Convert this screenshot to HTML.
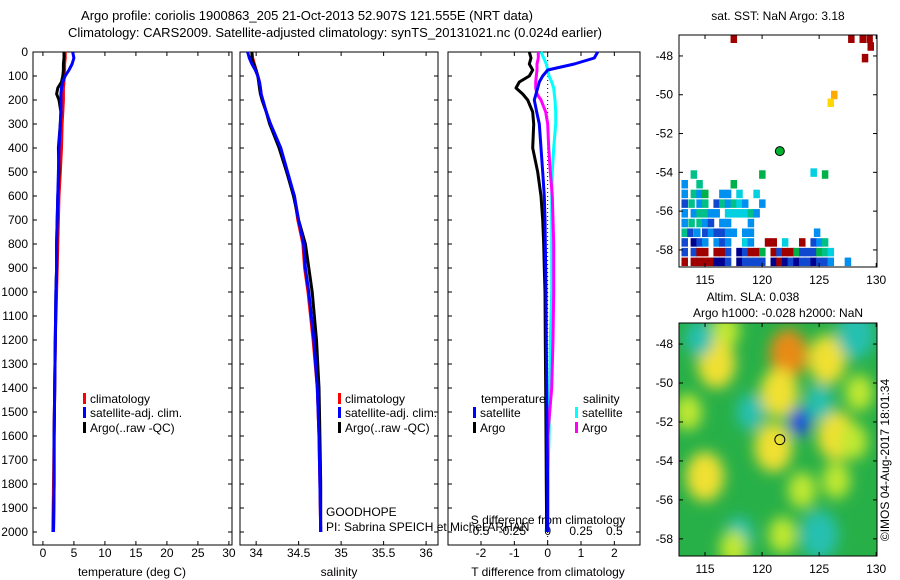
<!DOCTYPE html>
<html><head><meta charset="utf-8">
<style>
body{margin:0;background:#fff;}
svg{display:block;font-family:"Liberation Sans",sans-serif;}
text{font-size:12px;fill:#000;}
</style></head>
<body>
<svg id="fig" width="900" height="580" xmlns="http://www.w3.org/2000/svg">
<defs><clipPath id="clipM1"><rect x="679" y="35" width="198" height="232"/></clipPath>
<clipPath id="clipM2"><rect x="679" y="323" width="198" height="233"/></clipPath>
<filter id="blur" x="-50%" y="-50%" width="200%" height="200%"><feGaussianBlur stdDeviation="7"/></filter></defs>
<text x="307" y="20" text-anchor="middle" style="font-size:13px">Argo profile: coriolis 1900863_205 21-Oct-2013 52.907S 121.555E (NRT data)</text>
<text x="335" y="37" text-anchor="middle" style="font-size:13px">Climatology: CARS2009. Satellite-adjusted climatology: synTS_20131021.nc (0.024d earlier)</text>
<g id="g"></g>
</svg>
<script>
const depths = [0,25,50,75,100,125,150,175,200,250,300,400,500,600,700,800,900,1000,1200,1400,1600,1800,2000];
const tempClim = [3.6,3.6,3.5,3.5,3.4,3.4,3.3,3.3,3.3,3.2,3.1,3.0,2.8,2.6,2.5,2.4,2.3,2.2,2.0,1.9,1.8,1.7,1.6];
const tempSat  = [4.8,5.0,4.7,4.2,3.6,3.2,3.0,2.9,2.9,2.9,2.8,2.6,2.5,2.4,2.3,2.2,2.2,2.1,2.0,1.9,1.8,1.8,1.7];
const tempArgo = [3.4,3.4,3.3,3.3,3.2,3.0,2.4,2.2,2.6,2.9,2.8,2.5,2.6,2.4,2.3,2.2,2.2,2.1,2.0,1.9,1.8,1.8,1.7];
const salClim = [33.95,33.96,33.98,34.0,34.02,34.04,34.05,34.06,34.07,34.12,34.16,34.28,34.36,34.45,34.49,34.55,34.57,34.61,34.67,34.72,34.74,34.75,34.76];
const salSat  = [33.9,33.92,33.95,33.99,34.02,34.04,34.05,34.06,34.08,34.12,34.17,34.29,34.37,34.45,34.5,34.56,34.58,34.62,34.68,34.72,34.74,34.75,34.76];
const salArgo = [33.95,33.95,33.97,34.0,34.02,34.03,34.04,34.05,34.07,34.12,34.16,34.27,34.36,34.44,34.5,34.58,34.62,34.66,34.71,34.74,34.75,34.76,34.76];
const tDiffSat  = [1.5,1.4,0.8,0.0,-0.15,-0.25,-0.3,-0.35,-0.4,-0.33,-0.25,-0.2,-0.15,-0.1,-0.08,-0.07,-0.06,-0.05,-0.04,-0.03,-0.02,0.0,0.0];
const tDiffArgo = [-0.55,-0.5,-0.55,-0.45,-0.55,-0.85,-0.95,-0.75,-0.6,-0.45,-0.42,-0.45,-0.3,-0.2,-0.15,-0.12,-0.1,-0.08,-0.07,-0.06,-0.05,-0.04,-0.03];
const sDiffSat  = [-0.05,-0.03,-0.01,0.0,0.01,0.03,0.045,0.05,0.055,0.06,0.06,0.045,0.035,0.03,0.03,0.03,0.03,0.03,0.02,0.015,0.01,0.0,-0.01];
const sDiffArgo = [-0.07,-0.07,-0.08,-0.08,-0.085,-0.09,-0.09,-0.08,-0.05,-0.015,0.0,0.008,0.02,0.035,0.04,0.045,0.045,0.045,0.04,0.03,0.0,0.0,0.0];
const depthTicks = [0,100,200,300,400,500,600,700,800,900,1000,1100,1200,1300,1400,1500,1600,1700,1800,1900,2000];
const tempTicks = [0,5,10,15,20,25,30];
const salTicks = [34,34.5,35,35.5,36];
const tDiffTicks = [-2,-1,0,1,2];
const sDiffTicks = [-0.5,-0.25,0,0.25,0.5];
const sDiffLabels = ['-0.5','-0.25','0','0.25','0.5'];
const sstLon = [113.2,114,114.5,115,115.5,116,116.5,117,118,118.5,119,119.5,120,121,121.5,122,122.5,123,123.5,124,124.5,125,125.5,126,127.5,
 113.2,114,114.5,115,116,116.5,117,118,118.5,119,119.5,120,121,121.5,122,122.5,123,123.5,124,124.5,125,125.5,126,
 113.2,114,114.5,115,116,116.5,117,118.5,119,120.5,121,122,123.5,124.5,125,125.5,
 113.2,113.7,114.3,115,115.5,116,116.5,117,117.5,118.5,119,124.8,
 113.2,113.8,114.5,115,115.5,116.5,117,119,
 113.2,114,114.5,115,115.5,116,117,117.5,118,118.5,119,119.5,
 113.2,113.8,114.5,115,116,116.5,117,117.5,118,118.5,120,
 113.2,114,114.5,115,116.5,117,118,119.5,
 113.2,114.5,117.5,114,120,124.5,125.5,
 117.5,127.8,128.8,129.4,129.5,129,126.3,126];
const sstLat = [-58.6,-58.6,-58.6,-58.6,-58.6,-58.6,-58.6,-58.6,-58.6,-58.6,-58.6,-58.6,-58.6,-58.6,-58.6,-58.6,-58.6,-58.6,-58.6,-58.6,-58.6,-58.6,-58.6,-58.6,-58.6,
 -58.1,-58.1,-58.1,-58.1,-58.1,-58.1,-58.1,-58.1,-58.1,-58.1,-58.1,-58.1,-58.1,-58.1,-58.1,-58.1,-58.1,-58.1,-58.1,-58.1,-58.1,-58.1,-58.1,
 -57.6,-57.6,-57.6,-57.6,-57.6,-57.6,-57.6,-57.6,-57.6,-57.6,-57.6,-57.6,-57.6,-57.6,-57.6,-57.6,
 -57.1,-57.1,-57.1,-57.1,-57.1,-57.1,-57.1,-57.1,-57.1,-57.1,-57.1,-57.1,
 -56.6,-56.6,-56.6,-56.6,-56.6,-56.6,-56.6,-56.6,
 -56.1,-56.1,-56.1,-56.1,-56.1,-56.1,-56.1,-56.1,-56.1,-56.1,-56.1,-56.1,
 -55.6,-55.6,-55.6,-55.6,-55.6,-55.6,-55.6,-55.6,-55.6,-55.6,-55.6,
 -55.1,-55.1,-55.1,-55.1,-55.1,-55.1,-55.1,-55.1,
 -54.6,-54.6,-54.6,-54.1,-54.1,-54.0,-54.1,
 -47.1,-47.1,-47.1,-47.1,-47.5,-48.1,-50.0,-50.4];
const sstClass = [8,8,8,8,8,0,0,1,0,1,1,1,1,0,8,0,1,0,1,1,0,1,1,2,2,
 1,1,8,8,8,8,1,0,1,8,8,5,8,1,8,8,5,1,1,1,5,4,3,
 1,0,1,2,2,1,2,3,2,8,8,3,8,1,2,4,
 4,1,2,1,2,1,1,2,2,2,2,2,
 2,4,4,2,1,2,2,2,
 2,2,4,4,2,2,3,3,3,3,4,2,
 1,4,2,4,1,4,2,4,3,2,2,
 2,4,2,5,2,2,3,3,
 2,4,5,4,5,3,5,
 8,8,8,8,8,8,7,6];
const sstColors = ['#000090','#1048d0','#0090f0','#00d0e0','#00c08a','#00b048','#ffd800','#ffaa00','#a00000'];
const slaLon = [116.8,116,122.3,121.5,125.7,126.5,121,115,123.5,126.5,121.8,128.5,128,123.3,114.5,128.2,125,118,119,125,113.5,117.5];
const slaLat = [-47.3,-49,-48.5,-50.5,-48.8,-52.7,-53.3,-54.8,-55.5,-55,-57.8,-50.5,-53,-52,-47.7,-47.5,-57.8,-57.8,-51.5,-51,-51.5,-58.5];
const slaVal = [0.5,0.6,1.0,0.7,0.8,0.8,0.6,0.7,0.4,0.4,0.5,0.4,0.3,-1.0,-0.5,-0.6,-0.6,-0.4,-0.3,-0.3,0.3,0.3];
const argoLon = 121.555, argoLat = -52.907;

const NS='http://www.w3.org/2000/svg';
const G=document.getElementById('g');
function el(tag,attrs,parent){const e=document.createElementNS(NS,tag);for(const k in attrs)e.setAttribute(k,attrs[k]);(parent||G).appendChild(e);return e;}
function txt(x,y,s,anchor,parent){const t=el('text',{x:x,y:y,'text-anchor':anchor||'start'},parent);t.textContent=s;return t;}

const yTop=52, pxPer=0.24;
const yD=d=>yTop+d*pxPer;
const PB=545;
const panels=[
 {x0:33,x1:232,vmin:-1.6,vmax:30.5,name:'temperature'},
 {x0:240,x1:438,vmin:33.81,vmax:36.14,name:'salinity'},
 {x0:448,x1:640,vmin:-2.99,vmax:2.77,name:'difference'}];
function xs(p,v){return p.x0+(v-p.vmin)/(p.vmax-p.vmin)*(p.x1-p.x0);}

panels.forEach((p,i)=>{
  const r=el('rect',{x:p.x0,y:yTop,width:p.x1-p.x0,height:PB-yTop,fill:'none',stroke:'#000','stroke-width':1});
  
  
  depthTicks.forEach(d=>{
    el('line',{x1:p.x0,x2:p.x0+4,y1:yD(d),y2:yD(d),stroke:'#000'});
    el('line',{x1:p.x1-4,x2:p.x1,y1:yD(d),y2:yD(d),stroke:'#000'});
    if(i===0){const t=txt(28,yD(d)+4,String(d),'end');
      
      }
  });
});
function xticks(p,ticks,labels,ly,scaleFn){
  ticks.forEach((v,k)=>{const x=scaleFn(v);
    el('line',{x1:x,x2:x,y1:PB,y2:PB-4,stroke:'#000'});
    el('line',{x1:x,x2:x,y1:yTop,y2:yTop+4,stroke:'#000'});
    const t=txt(x,ly,labels[k],'middle');
    
    });
}
xticks(panels[0],tempTicks,tempTicks.map(String),557,v=>xs(panels[0],v));
xticks(panels[1],salTicks,salTicks.map(String),557,v=>xs(panels[1],v));
xticks(panels[2],tDiffTicks,tDiffTicks.map(String),557,v=>xs(panels[2],v));
const sScale=v=>xs(panels[2],v*4);
sDiffTicks.forEach((v,k)=>{const t=txt(sScale(v)+(v<0?-2:0),535,sDiffLabels[k],'middle');
  
  });
[['temperature (deg C)',132],['salinity',339],['T difference from climatology',548]].forEach(a=>{
  const t=txt(a[1],576,a[0],'middle');
  
  });
{const t=txt(548,524,'S difference from climatology','middle');
 
 }

el('line',{x1:xs(panels[2],0),x2:xs(panels[2],0),y1:yTop,y2:PB,stroke:'#000','stroke-dasharray':'1,3'});

function profile(vals,fn,color,name,w){
  let d='';
  vals.forEach((v,k)=>{d+=(k?'L':'M')+fn(v).toFixed(1)+','+yD(depths[k]).toFixed(1);});
  const pth=el('path',{d:d,fill:'none',stroke:color,'stroke-width':w||3,'stroke-linejoin':'round'});
  
  
}
const P0=panels[0],P1=panels[1],P2=panels[2];
profile(tempClim,v=>xs(P0,v),'#ff0000','temp-climatology-line');
profile(tempArgo,v=>xs(P0,v),'#000000','temp-argo-line');
profile(tempSat,v=>xs(P0,v),'#0000ff','temp-satellite-line');
profile(salClim,v=>xs(P1,v),'#ff0000','sal-climatology-line');
profile(salArgo,v=>xs(P1,v),'#000000','sal-argo-line');
profile(salSat,v=>xs(P1,v),'#0000ff','sal-satellite-line');
profile(sDiffSat,sScale,'#00ffff','s-diff-satellite-line');
profile(sDiffArgo,sScale,'#ff00ff','s-diff-argo-line');
profile(tDiffArgo,v=>xs(P2,v),'#000000','t-diff-argo-line');
profile(tDiffSat,v=>xs(P2,v),'#0000ff','t-diff-satellite-line');

function legend(x,y,color,label){
  el('rect',{x:x,y:y-10,width:3,height:11,fill:color});
  const t=txt(x+7,y,label);
  
  
}
legend(83,403,'#ff0000','climatology');legend(83,417,'#0000ff','satellite-adj. clim.');legend(83,432,'#000','Argo(..raw -QC)');
legend(338,403,'#ff0000','climatology');legend(338,417,'#0000ff','satellite-adj. clim.');legend(338,432,'#000','Argo(..raw -QC)');
txt(481,403,'temperature');txt(583,403,'salinity');
legend(473,417,'#0000ff','satellite');legend(473,432,'#000','Argo');
legend(575,417,'#00ffff','satellite');legend(575,432,'#ff00ff','Argo');
txt(326,516,'GOODHOPE');txt(326,531,'PI: Sabrina SPEICH et Michel ARHAN');

const M={x0:679,x1:877,lon0:112.72,lon1:130.07,lat0:-46.92,lat1:-58.88};
const mx=l=>M.x0+(l-M.lon0)/(M.lon1-M.lon0)*(M.x1-M.x0);
function my(lat,top,bot){return top+(lat-M.lat0)/(M.lat1-M.lat0)*(bot-top);}
function mapAxes(top,bot,name){
  const r=el('rect',{x:M.x0,y:top,width:M.x1-M.x0,height:bot-top,fill:'none',stroke:'#000'});
  
  
  [-48,-50,-52,-54,-56,-58].forEach(l=>{const y=my(l,top,bot);
    el('line',{x1:M.x0,x2:M.x0+4,y1:y,y2:y,stroke:'#000'});el('line',{x1:M.x1-4,x2:M.x1,y1:y,y2:y,stroke:'#000'});
    txt(673,y+4,String(l),'end');});
  [115,120,125,130].forEach(l=>{const x=mx(l);
    el('line',{x1:x,x2:x,y1:bot,y2:bot-4,stroke:'#000'});el('line',{x1:x,x2:x,y1:top,y2:top+4,stroke:'#000'});
    txt(x,bot+17,String(l),'middle');});
}
const g1=el('g',{'clip-path':'url(#clipM1)'});
sstLon.forEach((lon,k)=>{
  const c=el('rect',{x:mx(lon)-3,y:my(sstLat[k],35,267)-4,width:6.5,height:8.5,fill:sstColors[sstClass[k]]},g1);
  
  
});
mapAxes(35,267,'sst-map-frame');
{const c=el('circle',{cx:mx(argoLon),cy:my(argoLat,35,267),r:4.5,fill:'#00b030',stroke:'#000'});
 }
txt(778,20,'sat. SST: NaN Argo: 3.18','middle');

const g2=el('g',{'clip-path':'url(#clipM2)'});
el('rect',{x:679,y:323,width:198,height:233,fill:'#28b048'},g2);
const gb=el('g',{filter:'url(#blur)'},g2);
slaLon.forEach((lon,k)=>{
  const v=slaVal[k];
  let col=v>=0.9?'#e88a18':v>=0.6?'#f0e030':v>0?'#c0e830':v<=-0.9?'#1850e0':'#28c0b0';
  const r=v<=-0.9?11:(Math.abs(v)>=0.6?19:14);
  const e=el('ellipse',{cx:mx(lon),cy:my(slaLat[k],323,556),rx:r,ry:r*1.3,fill:col},gb);
  
  
});
mapAxes(323,556,'sla-map-frame');
{const c=el('circle',{cx:mx(argoLon),cy:my(argoLat,323,556),r:5,fill:'none',stroke:'#000'});
 }
txt(753,301,'Altim. SLA: 0.038','middle');
txt(778,317,'Argo h1000: -0.028 h2000: NaN','middle');
{const t=txt(0,0,'©IMOS 04-Aug-2017 18:01:34','middle');t.setAttribute('transform','translate(889,460) rotate(-90)');
 }
</script>
</body></html>
